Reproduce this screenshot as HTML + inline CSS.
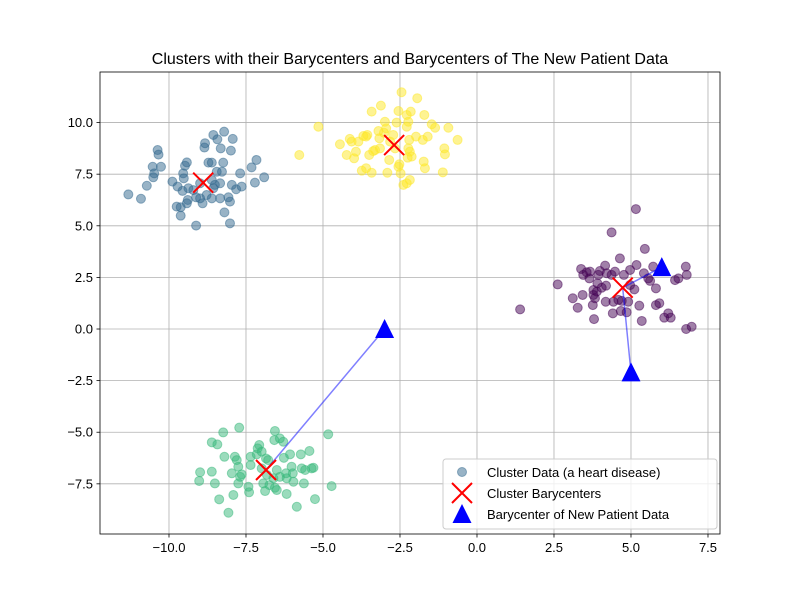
<!DOCTYPE html>
<html><head><meta charset="utf-8"><style>
body{margin:0;background:#fff}
svg{font-family:"Liberation Sans","DejaVu Sans",sans-serif}
</style></head><body>
<svg id="chart" width="800" height="600" viewBox="0 0 800 600"></svg>
<script>
const clusterNames=["c0","c1","c2","c3"];
const c0x=[-11.32,-10.91,-10.72,-10.51,-10.48,-10.53,-10.26,-10.37,-10.34,-9.89,-9.72,-9.56,-9.48,-9.42,-9.54,-9.52,-9.37,-9.39,-9.42,-9.75,-9.62,-9.62,-9.12,-9.12,-8.99,-8.91,-8.78,-8.61,-8.34,-8.07,-8.02,-8.02,-8.20,-8.56,-8.51,-8.61,-8.45,-8.28,-8.24,-8.72,-8.61,-8.83,-8.85,-8.56,-8.43,-8.21,-7.93,-8.32,-7.99,-7.69,-7.96,-7.82,-7.64,-7.21,-7.32,-7.16,-6.91,-8.99,-9.21,-8.34];
const c0y=[6.52,6.31,6.94,7.35,7.54,7.86,7.86,8.67,8.45,7.14,6.90,6.69,7.91,8.07,7.54,7.30,6.82,6.25,6.09,5.93,5.90,5.49,5.01,6.38,6.33,6.09,6.49,6.33,6.33,6.38,6.17,5.12,5.65,6.82,6.98,7.22,7.62,7.62,8.06,8.06,8.06,9.00,8.79,9.40,9.19,9.56,9.21,8.75,8.64,7.54,6.98,6.77,6.90,7.09,7.83,8.19,7.35,7.06,6.73,7.06];
const c1x=[-5.77,-5.15,-4.45,-4.23,-4.07,-4.13,-3.99,-3.93,-3.85,-3.69,-3.56,-3.60,-3.74,-3.60,-3.42,-3.50,-3.37,-3.31,-3.20,-3.17,-3.02,-2.95,-2.99,-3.42,-3.12,-2.91,-2.85,-2.72,-2.66,-2.55,-2.61,-2.55,-2.52,-2.48,-2.45,-2.39,-2.28,-2.18,-2.28,-2.15,-2.23,-2.28,-2.20,-2.23,-2.18,-2.12,-2.25,-1.98,-1.94,-1.76,-1.71,-1.60,-1.73,-1.69,-1.47,-1.36,-1.11,-1.06,-1.04,-0.93,-0.63,-3.15,-2.82];
const c1y=[8.43,9.80,8.95,8.43,9.08,9.21,8.27,8.59,9.08,9.35,9.40,9.32,7.67,7.79,7.57,8.43,8.62,8.67,9.59,9.24,9.51,9.72,10.04,10.53,10.82,7.57,8.19,9.40,8.75,10.56,10.00,7.86,7.98,7.54,11.47,6.98,7.06,7.22,10.37,10.53,10.04,9.80,9.16,8.75,8.59,8.35,8.30,9.32,11.18,9.16,10.37,9.32,8.11,7.79,9.92,9.75,7.59,8.75,8.46,9.75,9.16,8.75,9.08];
const c2x=[1.40,2.62,3.11,3.27,3.43,3.38,3.45,3.65,3.56,3.67,3.80,3.76,3.83,3.78,3.89,3.91,3.94,3.99,4.16,4.19,4.21,4.18,4.37,4.41,4.43,4.37,4.64,4.67,4.70,4.77,4.86,4.91,4.97,4.97,5.11,5.16,5.18,5.27,5.35,5.42,5.45,5.56,5.62,5.72,5.81,5.81,5.92,6.08,6.21,6.29,6.43,6.54,6.78,6.81,6.79,6.97,4.05,4.59,3.78,4.48];
const c2y=[0.95,2.16,1.49,1.03,1.65,2.91,2.62,2.45,2.75,2.78,0.48,1.16,1.49,1.89,1.81,2.21,2.62,2.81,3.07,2.10,2.70,1.32,2.62,0.76,1.32,4.68,3.42,0.87,1.36,2.62,0.81,1.32,2.86,2.13,1.92,5.81,3.10,1.13,0.39,2.70,3.88,2.45,2.33,3.02,1.97,1.16,1.25,0.55,0.76,0.55,2.37,2.45,3.02,2.62,0.00,0.11,2.00,1.41,1.65,2.78];
const c3x=[-8.99,-9.02,-8.61,-8.51,-8.61,-8.43,-8.37,-8.24,-8.20,-8.07,-7.96,-7.91,-7.86,-7.80,-7.75,-7.72,-7.69,-7.75,-7.64,-7.42,-7.40,-7.35,-7.35,-7.15,-7.12,-7.07,-6.99,-6.88,-6.94,-6.85,-6.78,-6.74,-6.56,-6.58,-6.56,-6.50,-6.50,-6.40,-6.29,-6.27,-6.20,-6.18,-6.07,-6.02,-5.98,-5.96,-5.85,-5.72,-5.69,-5.62,-5.58,-5.44,-5.37,-5.31,-5.26,-4.83,-4.72,-6.82,-6.61,-6.40,-6.18,-6.99];
const c3y=[-6.94,-7.36,-6.91,-7.48,-5.49,-5.59,-8.25,-5.01,-6.19,-8.90,-6.99,-8.04,-6.19,-6.35,-6.67,-4.78,-7.16,-7.48,-7.04,-7.64,-7.91,-6.59,-6.19,-6.07,-5.78,-5.62,-5.94,-7.85,-7.48,-6.27,-6.35,-7.56,-4.94,-5.38,-7.69,-7.80,-6.83,-5.30,-5.46,-6.24,-6.99,-7.99,-6.07,-6.67,-6.99,-7.40,-8.61,-6.07,-6.75,-7.48,-6.83,-5.91,-6.75,-6.72,-8.24,-5.10,-7.61,-7.07,-7.23,-7.16,-7.23,-6.75];
const baryX=[-8.89,-2.69,4.73,-6.85];
const baryY=[7.09,8.91,2.00,-6.83];
const newX=[6.0,5.0,-3.0];
const newY=[3.0,-2.1,0.0];
const linkFrom=[2,2,3];
const xTicks=[-10,-7.5,-5,-2.5,0,2.5,5,7.5];
const xTickLabels=["−10.0","−7.5","−5.0","−2.5","0.0","2.5","5.0","7.5"];
const yTicks=[-7.5,-5,-2.5,0,2.5,5,7.5,10];
const yTickLabels=["−7.5","−5.0","−2.5","0.0","2.5","5.0","7.5","10.0"];

const L=100,R=720,T=72,B=534;
const xmin=-12.24,xmax=7.89,ymin=-9.93,ymax=12.45;
const sx=v=>L+(v-xmin)/(xmax-xmin)*(R-L);
const sy=v=>B-(v-ymin)/(ymax-ymin)*(B-T);
const NS="http://www.w3.org/2000/svg";
const svg=document.getElementById('chart');
function mk(tag,attrs,parent){const e=document.createElementNS(NS,tag);for(const k in attrs)e.setAttribute(k,attrs[k]);(parent||svg).appendChild(e);return e;}

let g=mk('g',{});


xTicks.forEach((t,i)=>{
  const ln=mk('line',{x1:sx(t),x2:sx(t),y1:T,y2:B,stroke:'#b0b0b0','stroke-width':0.8},g);
  
  
  const tk=mk('line',{x1:sx(t),x2:sx(t),y1:B,y2:B+3.5,stroke:'#000','stroke-width':0.8});
  
  
  const tx=mk('text',{x:sx(t),y:B+18,'font-size':13,'text-anchor':'middle',fill:'#000'});
  tx.textContent=xTickLabels[i];
  
  
});
yTicks.forEach((t,i)=>{
  const ln=mk('line',{x1:L,x2:R,y1:sy(t),y2:sy(t),stroke:'#b0b0b0','stroke-width':0.8},g);
  
  
  const tk=mk('line',{x1:L-3.5,x2:L,y1:sy(t),y2:sy(t),stroke:'#000','stroke-width':0.8});
  
  
  const tx=mk('text',{x:L-7,y:sy(t)+4.5,'font-size':13,'text-anchor':'end',fill:'#000'});
  tx.textContent=yTickLabels[i];
  
  
});

const colors=['#31688e','#fde725','#440154','#35b779'];
const xs=[c0x,c1x,c2x,c3x],ys=[c0y,c1y,c2y,c3y];
xs.forEach((arr,ci)=>{
  const cg=mk('g',{});
  
  
  arr.forEach((v,i)=>{
    const c=mk('circle',{cx:sx(v),cy:sy(ys[ci][i]),r:4.5,fill:colors[ci],'fill-opacity':0.5,stroke:colors[ci],'stroke-opacity':0.5,'stroke-width':1},cg);
    
    
  });
});

newX.forEach((v,i)=>{
  const b=linkFrom[i];
  const ln=mk('line',{x1:sx(baryX[b]),y1:sy(baryY[b]),x2:sx(v),y2:sy(newY[i]),stroke:'#0000ff','stroke-opacity':0.5,'stroke-width':1.5});
  
  
});

baryX.forEach((v,i)=>{
  const x=sx(v),y=sy(baryY[i]),s=10;
  const p=mk('path',{d:`M${x-s},${y-s}L${x+s},${y+s}M${x-s},${y+s}L${x+s},${y-s}`,stroke:'#ff0000','stroke-width':2});
  
  
});

newX.forEach((v,i)=>{
  const x=sx(v),y=sy(newY[i]);
  const p=mk('polygon',{points:`${x},${y-10} ${x-9.5},${y+9} ${x+9.5},${y+9}`,fill:'#0000ff'});
  
  
});

const frame=mk('rect',{x:L,y:T,width:R-L,height:B-T,fill:'none',stroke:'#000','stroke-width':0.8});



const title=mk('text',{x:410,y:64,'font-size':16,'text-anchor':'middle',fill:'#000'});
title.textContent='Clusters with their Barycenters and Barycenters of The New Patient Data';



const lg=mk('g',{});


mk('rect',{x:443,y:459,width:274,height:70,rx:3,fill:'#fff','fill-opacity':0.8,stroke:'#ccc','stroke-width':1},lg);
const e1=mk('circle',{cx:462,cy:472,r:4.5,fill:'#31688e','fill-opacity':0.5,stroke:'#31688e','stroke-opacity':0.5},lg);


const e2=mk('path',{d:'M452,483L472,503M452,503L472,483',stroke:'#ff0000','stroke-width':2},lg);


const e3=mk('polygon',{points:'462,504 452.5,523 471.5,523',fill:'#0000ff'},lg);


[['Cluster Data (a heart disease)',477],['Cluster Barycenters',498],['Barycenter of New Patient Data',519]].forEach(([t,y])=>{
  const tx=mk('text',{x:487,y:y,'font-size':13,fill:'#000'},lg);
  tx.textContent=t;
  
  
});
</script>
</body></html>
